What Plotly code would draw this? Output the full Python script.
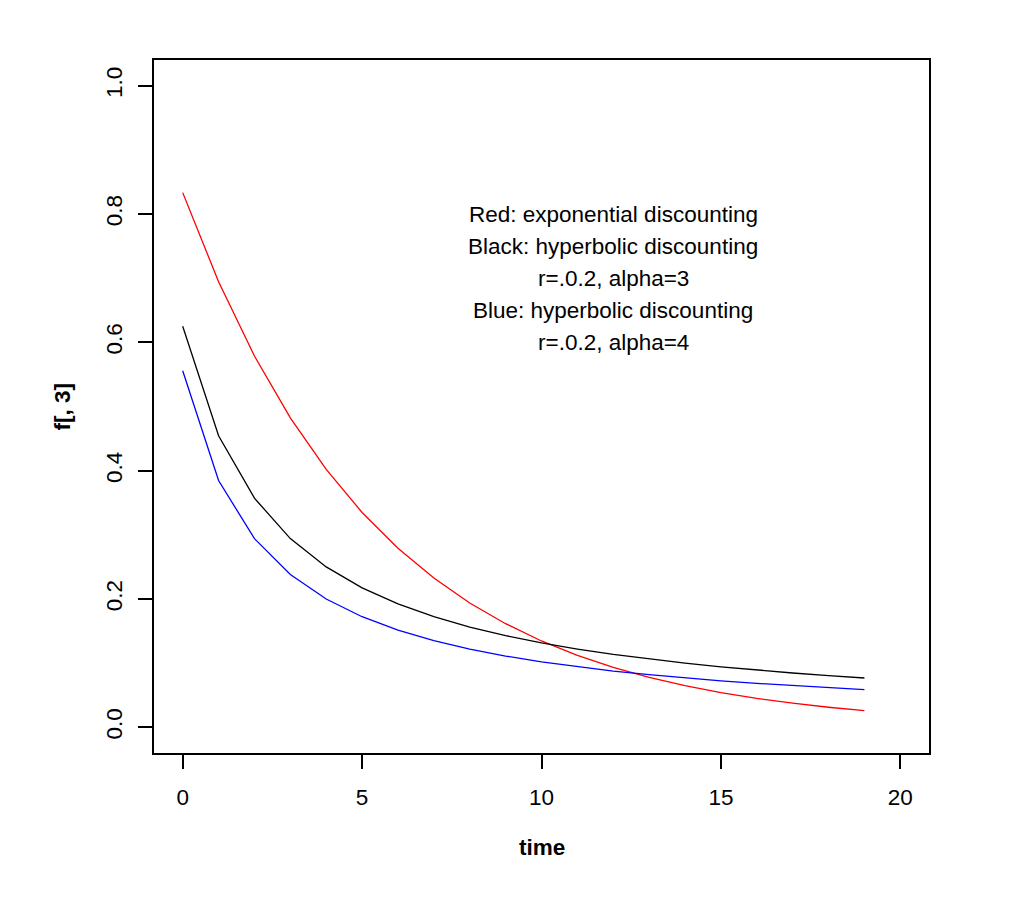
import plotly.graph_objects as go

time = list(range(20))
red_exponential = [0.8333, 0.6944, 0.5787, 0.4823, 0.4019, 0.3349, 0.2791, 0.2326, 0.1938, 0.1615,
                   0.1346, 0.1122, 0.0935, 0.0779, 0.0649, 0.0541, 0.0451, 0.0376, 0.0313, 0.0261]
black_hyperbolic_a3 = [0.6250, 0.4545, 0.3571, 0.2941, 0.2500, 0.2174, 0.1923, 0.1724, 0.1563, 0.1429,
                       0.1316, 0.1220, 0.1136, 0.1064, 0.1000, 0.0943, 0.0893, 0.0847, 0.0806, 0.0769]
blue_hyperbolic_a4 = [0.5556, 0.3846, 0.2941, 0.2381, 0.2000, 0.1724, 0.1515, 0.1351, 0.1220, 0.1111,
                      0.1020, 0.0943, 0.0877, 0.0820, 0.0769, 0.0725, 0.0685, 0.0649, 0.0617, 0.0588]

x_ticks = [0, 5, 10, 15, 20]
y_ticks = [0.0, 0.2, 0.4, 0.6, 0.8, 1.0]
y_tick_text = ["0.0", "0.2", "0.4", "0.6", "0.8", "1.0"]

note_lines = ["Red: exponential discounting", "Black: hyperbolic discounting", "r=.0.2, alpha=3",
              "Blue: hyperbolic discounting", "r=.0.2, alpha=4"]
note_y = [0.80, 0.75, 0.70, 0.65, 0.60]
note_x = 12

FONT = "Liberation Sans, Arial, Helvetica, sans-serif"
FS = 22.5

fig = go.Figure()
fig.add_trace(go.Scatter(x=time, y=red_exponential, mode="lines", line=dict(color="#ff0000", width=1.3), showlegend=False))
fig.add_trace(go.Scatter(x=time, y=black_hyperbolic_a3, mode="lines", line=dict(color="#000000", width=1.3), showlegend=False))
fig.add_trace(go.Scatter(x=time, y=blue_hyperbolic_a4, mode="lines", line=dict(color="#0000ff", width=1.3), showlegend=False))

for txt, yy in zip(note_lines, note_y):
    fig.add_annotation(x=note_x, y=yy, xref="x", yref="y", text=txt, showarrow=False,
                       font=dict(family=FONT, size=FS, color="black"), xanchor="center", yanchor="middle")

fig.add_annotation(x=0.5, y=-0.137, xref="paper", yref="paper", text="<b>time</b>", showarrow=False,
                   font=dict(family=FONT, size=FS, color="black"), xanchor="center", yanchor="middle")
fig.add_annotation(x=-0.1187, y=0.5, xref="paper", yref="paper", text="<b>f[, 3]</b>", showarrow=False,
                   textangle=-90, font=dict(family=FONT, size=FS, color="black"), xanchor="center", yanchor="middle")

fig.update_layout(
    width=1010, height=904,
    margin=dict(l=146, r=89, t=52, b=159, autoexpand=False),
    paper_bgcolor="white", plot_bgcolor="white",
    font=dict(family=FONT, size=FS, color="black"),
)
fig.update_xaxes(range=[-0.8, 20.8], tickvals=x_ticks, ticks="outside", ticklen=14, tickwidth=1.5,
                 tickcolor="black", showline=True, linecolor="black", linewidth=1.5, mirror=True,
                 showgrid=False, zeroline=False, ticklabelstandoff=9,
                 tickfont=dict(family=FONT, size=FS, color="black"))
fig.update_yaxes(range=[-0.04, 1.04], tickvals=y_ticks, ticktext=y_tick_text, ticks="outside", ticklen=14,
                 tickwidth=1.5, tickcolor="black", showline=True, linecolor="black", linewidth=1.5, mirror=True,
                 showgrid=False, zeroline=False, tickangle=-90, ticklabelstandoff=7,
                 tickfont=dict(family=FONT, size=FS, color="black"))

fig.write_html("out.html")
